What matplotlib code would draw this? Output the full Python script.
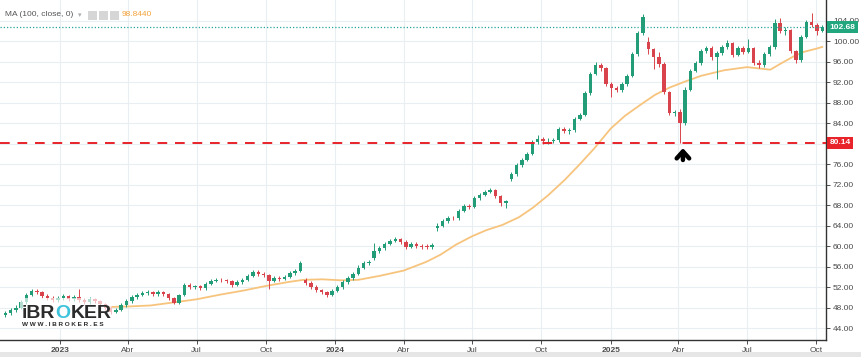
import datetime as dt
import matplotlib
matplotlib.use('Agg')
import matplotlib.pyplot as plt
import matplotlib.dates as mdates
import matplotlib.transforms as mtransforms
from matplotlib.patches import Rectangle

plt.rcParams['font.family'] = ['Liberation Sans', 'DejaVu Sans']

# weekly candles
start = dt.date(2022, 10, 20)
opens = [46.6, 47.0, 47.5, 48.0, 49.0, 50.5, 51.2, 51.0, 50.3, 49.8,
         49.5, 49.8, 50.2, 49.6, 50.0, 49.4, 49.0, 49.6, 49.2, 48.6,
         48.0, 47.2, 47.6, 48.4, 49.2, 50.0, 50.5, 50.8, 51.0, 50.6,
         51.0, 50.6, 49.8, 48.9, 50.4, 52.3, 52.0, 52.1, 51.8, 52.6,
         53.2, 53.4, 53.3, 53.1, 52.4, 52.9, 53.4, 54.2, 54.9, 54.6,
         54.3, 53.2, 53.8, 53.6, 54.0, 54.7, 55.2, 53.4, 52.8, 52.0,
         51.4, 51.0, 50.5, 51.3, 52.0, 52.9, 53.7, 54.6, 55.8, 56.6,
         57.6, 59.0, 59.6, 60.4, 61.0, 61.3, 60.8, 59.9, 60.4, 60.0,
         59.9, 59.8, 63.6, 64.0, 64.8, 65.5, 65.4, 66.9, 67.8, 67.7,
         69.3, 70.0, 70.6, 70.9, 69.8, 68.3, 73.0, 74.0, 75.8, 76.8,
         78.0, 80.2, 80.8, 80.4, 80.5, 80.6, 82.8, 82.4, 82.6, 84.8,
         85.6, 89.8, 93.6, 95.3, 94.8, 91.6, 90.8, 90.4, 91.6, 93.2,
         97.4, 101.5, 99.8, 98.4, 96.8, 95.5, 90.0, 86.0, 86.2, 84.0,
         90.5, 94.2, 95.7, 98.0, 98.6, 96.8, 97.6, 98.8, 99.6, 97.3,
         98.6, 97.9, 98.6, 95.7, 95.3, 97.4, 98.8, 103.6, 102.0, 102.1,
         98.0, 96.3, 100.8, 103.7, 103.1, 102.0]
highs = [47.4, 47.9, 48.4, 49.4, 50.9, 51.7, 51.6, 51.3, 50.7, 50.2,
         50.3, 50.6, 50.5, 50.4, 51.6, 49.8, 50.0, 49.9, 49.5, 48.9,
         48.3, 48.0, 48.8, 49.6, 50.4, 50.9, 51.2, 51.4, 51.3, 51.4,
         51.3, 50.9, 50.0, 50.7, 52.7, 52.8, 52.4, 52.4, 53.0, 53.6,
         53.8, 53.8, 53.6, 53.3, 53.3, 53.8, 54.6, 55.3, 55.3, 54.9,
         54.5, 54.2, 54.1, 54.4, 55.1, 55.6, 57.0, 53.8, 53.1, 52.3,
         51.7, 51.3, 51.7, 52.4, 53.3, 54.1, 55.0, 56.2, 57.0, 57.3,
         60.6, 60.0, 60.8, 61.4, 61.7, 61.6, 61.1, 60.8, 60.7, 60.4,
         60.3, 60.6, 64.4, 65.2, 65.9, 65.9, 67.3, 68.2, 68.2, 69.7,
         70.4, 71.0, 71.4, 71.1, 70.0, 68.9, 74.4, 76.2, 77.2, 78.4,
         80.6, 81.6, 81.2, 81.0, 81.1, 83.2, 83.2, 83.1, 85.2, 86.0,
         90.2, 94.0, 95.9, 95.8, 95.0, 92.0, 91.3, 92.0, 93.6, 97.8,
         101.9, 105.2, 100.8, 98.7, 97.9, 95.9, 90.3, 86.6, 86.7, 91.0,
         94.6, 96.1, 98.4, 99.0, 99.0, 98.0, 99.2, 100.2, 99.9, 99.0,
         99.0, 100.4, 98.9, 96.2, 97.8, 99.2, 104.2, 104.4, 102.8, 102.4,
         98.3, 101.2, 104.1, 105.5, 103.5, 103.1]
lows = [46.2, 46.6, 47.1, 47.7, 48.7, 50.2, 50.6, 49.9, 49.4, 49.1,
        49.1, 49.5, 49.2, 49.2, 49.0, 48.6, 48.7, 48.8, 48.2, 47.6,
        46.8, 46.9, 47.3, 48.1, 48.9, 49.7, 50.2, 50.5, 50.2, 50.3,
        50.2, 49.5, 48.6, 48.7, 50.2, 51.7, 51.6, 51.4, 51.5, 52.3,
        52.9, 52.9, 52.7, 52.0, 52.1, 52.6, 53.1, 53.9, 54.2, 53.9,
        51.6, 52.9, 53.2, 53.3, 53.7, 54.4, 54.9, 52.4, 51.6, 51.0,
        50.6, 50.1, 50.2, 51.0, 51.7, 52.6, 53.4, 54.3, 55.5, 56.3,
        57.2, 58.7, 59.3, 60.1, 60.7, 60.4, 59.5, 59.6, 59.6, 59.5,
        59.4, 59.5, 63.0, 63.7, 64.5, 65.0, 65.1, 66.6, 67.3, 67.4,
        69.0, 69.7, 70.3, 69.4, 67.8, 67.5, 72.6, 73.7, 75.5, 76.5,
        77.7, 79.9, 80.0, 80.0, 80.1, 80.3, 82.0, 81.9, 82.3, 84.5,
        85.3, 89.5, 93.3, 94.2, 91.2, 89.0, 90.0, 90.1, 91.3, 92.9,
        97.1, 101.2, 97.5, 94.6, 95.0, 89.6, 85.6, 85.4, 80.14, 83.6,
        90.2, 93.9, 95.4, 97.6, 96.3, 92.6, 97.3, 98.4, 96.9, 97.0,
        97.5, 97.6, 95.3, 94.7, 95.0, 97.1, 98.5, 101.6, 101.2, 97.6,
        95.8, 96.0, 100.5, 102.7, 101.2, 101.7]
closes = [47.0, 47.5, 48.0, 49.0, 50.5, 51.2, 51.0, 50.3, 49.8, 49.5,
          49.8, 50.2, 49.6, 50.0, 49.4, 49.0, 49.6, 49.2, 48.6, 48.0,
          47.2, 47.6, 48.4, 49.2, 50.0, 50.5, 50.8, 51.0, 50.6, 51.0,
          50.6, 49.8, 48.9, 50.4, 52.3, 52.0, 52.1, 51.8, 52.6, 53.2,
          53.4, 53.3, 53.1, 52.4, 52.9, 53.4, 54.2, 54.9, 54.6, 54.3,
          53.2, 53.8, 53.6, 54.0, 54.7, 55.2, 56.6, 52.8, 52.0, 51.4,
          51.0, 50.5, 51.3, 52.0, 52.9, 53.7, 54.6, 55.8, 56.6, 56.9,
          59.0, 59.6, 60.4, 61.0, 61.3, 60.8, 59.9, 60.4, 60.0, 59.9,
          59.8, 60.2, 64.0, 64.8, 65.5, 65.4, 66.9, 67.8, 67.7, 69.3,
          70.0, 70.6, 70.9, 69.8, 68.3, 68.8, 74.0, 75.8, 76.8, 78.0,
          80.2, 80.8, 80.4, 80.5, 80.6, 82.8, 82.4, 82.6, 84.8, 85.6,
          89.8, 93.6, 95.3, 94.8, 91.6, 90.8, 90.4, 91.6, 93.2, 97.4,
          101.5, 104.6, 98.4, 96.8, 95.5, 90.0, 86.0, 86.2, 84.0, 90.5,
          94.2, 95.7, 98.0, 98.6, 96.8, 97.6, 98.8, 99.6, 97.3, 98.6,
          97.9, 98.6, 95.7, 95.3, 97.4, 98.8, 103.6, 102.0, 102.1, 98.0,
          96.3, 100.8, 103.7, 103.1, 102.0, 102.68]
dates = [start + dt.timedelta(weeks=i) for i in range(len(closes))]

# 100 period moving average
ma_dates = ['2023-03-06', '2023-04-01', '2023-05-01', '2023-06-01', '2023-07-01',
            '2023-08-01', '2023-09-01', '2023-10-01', '2023-11-01', '2023-11-20',
            '2023-12-15', '2024-01-10', '2024-02-01', '2024-03-01', '2024-04-01',
            '2024-05-01', '2024-05-20', '2024-06-10', '2024-07-01', '2024-07-20',
            '2024-08-10', '2024-09-01', '2024-09-20', '2024-10-10', '2024-11-01',
            '2024-11-20', '2024-12-10', '2025-01-01', '2025-01-20', '2025-02-10',
            '2025-03-01', '2025-03-20', '2025-04-10', '2025-05-01', '2025-06-01',
            '2025-07-01', '2025-07-20', '2025-08-01', '2025-08-15', '2025-09-01',
            '2025-09-15', '2025-10-01', '2025-10-09']
ma_values = [48.1, 48.2, 48.4, 49.0, 49.6, 50.5, 51.3, 52.2, 53.0, 53.4,
             53.5, 53.3, 53.4, 54.2, 55.2, 56.9, 58.3, 60.3, 61.9, 63.1,
             64.1, 65.6, 67.5, 69.9, 72.9, 75.8, 79.0, 82.9, 85.4, 87.6,
             89.5, 90.9, 92.1, 93.2, 94.3, 94.9, 94.6, 94.4, 95.6, 97.0,
             97.9, 98.5, 98.84]

support_level = 80.14
last_price = 102.68
ma_last = 98.8440

tick_dates = ['2023-01-01', '2023-04-01', '2023-07-01', '2023-10-01',
              '2024-01-01', '2024-04-01', '2024-07-01', '2024-10-01',
              '2025-01-01', '2025-04-01', '2025-07-01', '2025-10-01']
tick_labels = ['2023', 'Abr', 'Jul', 'Oct', '2024', 'Abr', 'Jul', 'Oct',
               '2025', 'Abr', 'Jul', 'Oct']
price_ticks = list(range(44, 105, 4))

UP = '#239c78'
DOWN = '#d9434b'
GRID = '#e9eef3'
W, H = 862, 357

fig = plt.figure(figsize=(W / 100, H / 100), dpi=100)
fig.patch.set_facecolor('white')
ax = fig.add_axes([0, 17 / H, 826 / W, 1 - 17 / H])

x = mdates.date2num(dates)
colors = [UP if c >= o else DOWN for o, c in zip(opens, closes)]
ax.vlines(x, lows, highs, colors=colors, linewidth=0.7, zorder=3)
bottoms = [min(o, c) for o, c in zip(opens, closes)]
heights = [max(abs(c - o), 0.12) for o, c in zip(opens, closes)]
ax.bar(x, heights, bottom=bottoms, width=4.6, color=colors, linewidth=0, zorder=4)

ax.plot(mdates.datestr2num(ma_dates), ma_values, color='#f7c47e', lw=1.3, zorder=2)

ax.axhline(support_level, color='#e8232a', lw=1.4, ls=(0, (5, 4)), zorder=5)
ax.axhline(last_price, color='#26a69a', lw=0.9, ls=(0, (1, 1.6)), zorder=5)

# arrow under the April low
low_idx = lows.index(support_level)
ax.annotate('', xy=(x[low_idx] + 4, support_level - 0.5),
            xytext=(x[low_idx] + 4, support_level - 3.9),
            arrowprops=dict(arrowstyle='->,head_length=0.5,head_width=0.45',
                            lw=3.2, color='black'), zorder=6)

ax.set_xlim(mdates.datestr2num('2022-10-13'), mdates.datestr2num('2025-10-14'))
ax.set_ylim(41.66, 108.0)

ax.set_xticks(mdates.datestr2num(tick_dates))
ax.set_xticklabels(tick_labels)
for lab in ax.get_xticklabels():
    if lab.get_text().isdigit():
        lab.set_fontweight('bold')
ax.set_yticks(price_ticks)
# the 80.00 label sits under the support price box
ax.set_yticklabels(['' if v == 80 else f'{v:.2f}' for v in price_ticks])
ax.yaxis.tick_right()
ax.tick_params(axis='both', labelsize=6, colors='#333333', labelcolor='#4a4a4a',
               length=3, width=0.6, pad=2)
ax.grid(True, color=GRID, lw=0.8)
ax.set_axisbelow(True)
for side in ['left', 'top']:
    ax.spines[side].set_visible(False)
for side in ['right', 'bottom']:
    ax.spines[side].set_color('#333333')
    ax.spines[side].set_linewidth(1.0)

# price boxes on the scale
tr = mtransforms.blended_transform_factory(ax.transAxes, ax.transData)
for val, col in [(support_level, '#e8232a'), (last_price, '#22a67e')]:
    ax.text(1.004, val, f'{val:.2f}', transform=tr, ha='left', va='center',
            fontsize=6, color='white', fontweight='bold', clip_on=False, zorder=7,
            bbox=dict(boxstyle='square,pad=0.3', fc=col, ec='none'))

# indicator header
def px(xp, yp):
    return xp / W, 1 - yp / H

fig.text(*px(5, 15), 'MA (100, close, 0)', fontsize=6, color='#555555', va='center')
fig.text(*px(78, 15), '▾', fontsize=5, color='#aaaaaa', va='center',
         family=['DejaVu Sans'])
for xi in [88, 99, 110]:
    fig.patches.append(Rectangle(px(xi, 20), 9 / W, 9 / H, transform=fig.transFigure,
                                 fc='#d6d6d6', ec='none'))
fig.text(*px(122, 15), f'{ma_last:.4f}', fontsize=6, color='#f2a23a', va='center')

# logo
fig.patches.append(Rectangle(px(20, 328), 92 / W, 30 / H, transform=fig.transFigure,
                             fc='white', ec='none', alpha=0.65, zorder=8))
fig.canvas.draw()
renderer = fig.canvas.get_renderer()
xpos = 22
for part, col in [('iBR', '#2b2b2b'), ('O', '#3ec3dc'), ('KER', '#2b2b2b')]:
    t = fig.text(*px(xpos, 318), part, fontsize=14, fontweight='bold', color=col,
                 va='baseline', zorder=9)
    xpos += t.get_window_extent(renderer).width
fig.text(*px(22, 324), 'W W W . I B R O K E R . E S', fontsize=4.6,
         fontweight='bold', color='#2b2b2b', va='center', zorder=9)

# bottom strip
fig.patches.append(Rectangle((0, 0), 1, 5 / H, transform=fig.transFigure,
                             fc='#e6e6e6', ec='none'))

fig.savefig('out.png', dpi=100)
